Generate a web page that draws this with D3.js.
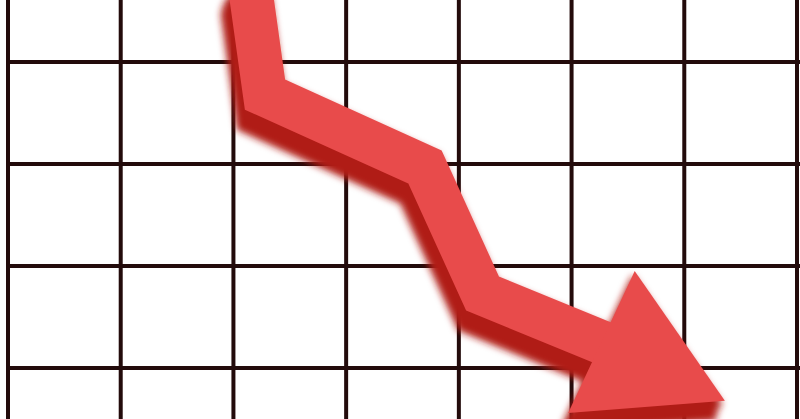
<!DOCTYPE html>
<html><head><meta charset="utf-8">
<script src="https://cdn.jsdelivr.net/npm/d3@7"></script>
<style>html,body{margin:0;padding:0;background:#fff;overflow:hidden}svg{display:block}</style>
</head><body>
<script>
// grid positions (data units)
const xTicks = [0, 1, 2, 3, 4, 5, 6, 7];
const yTicks = [0, 1, 2, 3];
// arrow shaft centreline (data units)
const shaftX = [2.15, 2.28, 3.70, 4.21, 5.36];
const shaftY = [3.71, 2.68, 1.97, 0.73, 0.21];
// arrow head triangle (data units)
const headX = [5.56, 6.36, 4.97];
const headY = [0.95, -0.32, -0.44];

const W = 800, H = 419;
const x = d3.scaleLinear().domain([0, 7]).range([8, 797]);
const y = d3.scaleLinear().domain([0, 3]).range([368, 62]);

const svg = d3.select("body").append("svg").attr("width", W).attr("height", H);
svg.append("rect").attr("width", W).attr("height", H).attr("fill", "#fff");

const defs = svg.append("defs");
const f = defs.append("filter").attr("id", "sh").attr("x", "-20%").attr("y", "-20%").attr("width", "140%").attr("height", "140%");
f.append("feGaussianBlur").attr("stdDeviation", 3.5);

const grid = svg.append("g").attr("stroke", "#230b0b").attr("stroke-width", 4);
grid.selectAll("line.v").data(xTicks).join("line").attr("class", "v")
  .attr("x1", d => x(d)).attr("x2", d => x(d)).attr("y1", 0).attr("y2", H);
grid.selectAll("line.h").data(yTicks).join("line").attr("class", "h")
  .attr("x1", x(0) - 2).attr("x2", W).attr("y1", d => y(d)).attr("y2", d => y(d));

const shaftPts = shaftX.map((v, i) => [x(v), y(shaftY[i])]);
const headPts = headX.map((v, i) => [x(v), y(headY[i])]);
const line = d3.line();

function drawArrow(g, color, width) {
  g.append("path").attr("d", line(shaftPts)).attr("fill", "none")
    .attr("stroke", color).attr("stroke-width", width)
    .attr("stroke-linejoin", "miter").attr("stroke-miterlimit", 10);
  g.append("path").attr("d", line(headPts) + "Z").attr("fill", color);
}

// shadow (extruded + blurred)
const shadow = svg.append("g").attr("filter", "url(#sh)");
[[-2, 4], [-4, 8], [-6, 12], [-7, 16], [-8, 20]].forEach(([dx, dy]) => {
  drawArrow(shadow.append("g").attr("transform", `translate(${dx},${dy})`), "#b01d18", 44);
});
drawArrow(svg.append("g"), "#e84b4b", 44);
</script>
</body></html>
